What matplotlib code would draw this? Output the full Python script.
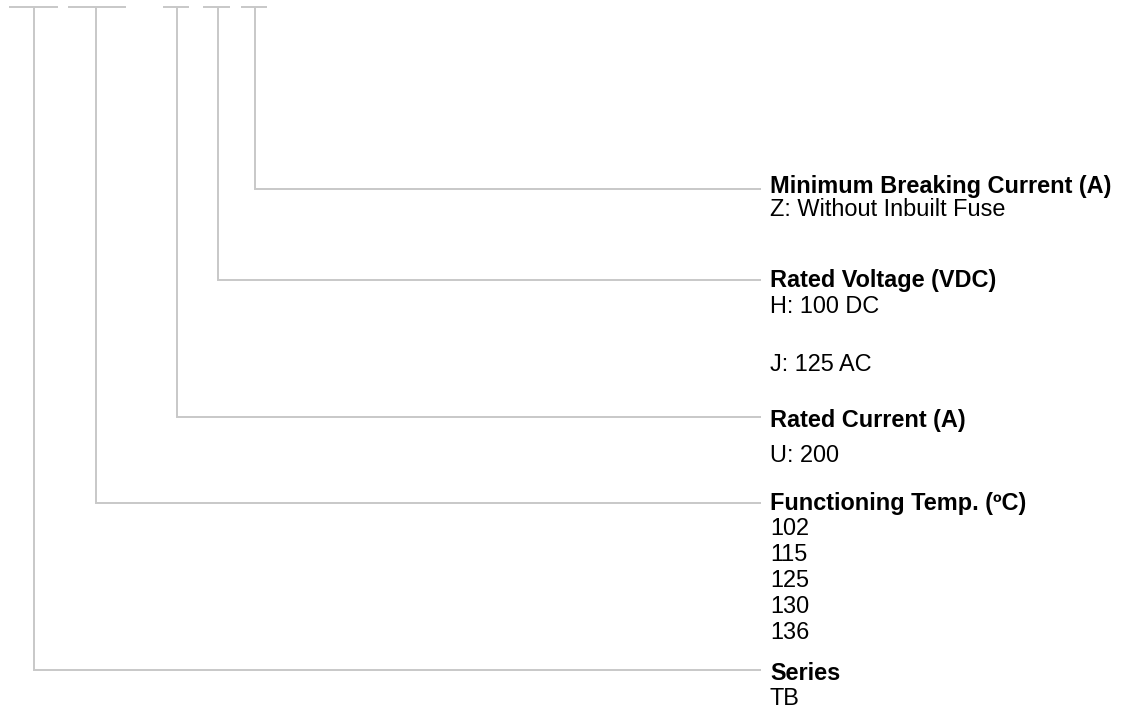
import matplotlib
matplotlib.use("Agg")
import matplotlib.pyplot as plt

# ---- content ----
group_titles = ["Series", "Functioning Temp. (ºC)", "Rated Current (A)",
                "Rated Voltage (VDC)", "Minimum Breaking Current (A)"]
series_options = ["TB"]
temp_options = ["102", "115", "125", "130", "136"]
current_options = ["U: 200"]
voltage_options = ["H: 100 DC", "J: 125 AC"]
breaking_options = ["Z: Without Inbuilt Fuse"]
group_options = [series_options, temp_options, current_options,
                 voltage_options, breaking_options]

# ---- layout (pixels) ----
W, H = 1122, 712
code_x = [34, 96, 177, 218, 255]                 # vertical leader x
code_seg = [(9, 58), (68, 126), (163, 189), (203, 230), (241, 267)]
top_y = 7
leader_y = [670, 503, 417, 280, 189]            # horizontal leader y
title_base = [680, 510, 427, 287, 193]          # heading baselines
option_base = [[705], [535, 561, 587, 613, 639], [462], [313, 371], [216]]
line_end_x = 761
text_x = 770
line_color = "#c8c8c8"
fs = 16.9

fig = plt.figure(figsize=(W / 100, H / 100), dpi=100)
ax = fig.add_axes([0, 0, 1, 1])
ax.set_xlim(0, W)
ax.set_ylim(H, 0)
ax.axis("off")

for i, title in enumerate(group_titles):
    x = code_x[i]
    s0, s1 = code_seg[i]
    ax.plot([s0, s1], [top_y, top_y], color=line_color, lw=1.4, solid_capstyle="butt")
    ax.plot([x, x, line_end_x], [top_y, leader_y[i], leader_y[i]],
            color=line_color, lw=1.4, solid_capstyle="butt", solid_joinstyle="miter")
    ax.text(text_x, title_base[i], title, fontsize=fs, fontweight="bold",
            family=["Liberation Sans", "DejaVu Sans"], va="baseline", ha="left",
            color="black")
    for opt, yb in zip(group_options[i], option_base[i]):
        ax.text(text_x, yb, opt, fontsize=fs,
                family=["Liberation Sans", "DejaVu Sans"], va="baseline", ha="left",
                color="black")

fig.savefig("out.png", dpi=100, facecolor="white")
